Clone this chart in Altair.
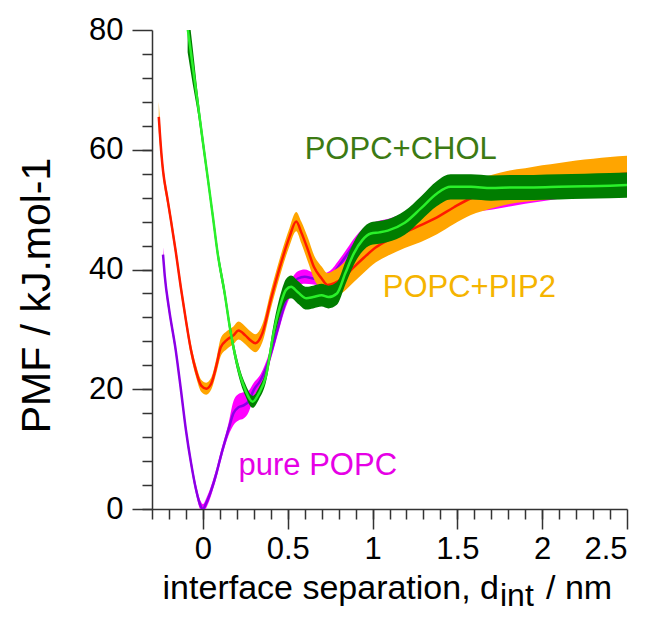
import altair as alt
import pandas as pd

FONT = "Liberation Sans"

# ---------------- data ----------------
# pure POPC (purple line, magenta error band)
popc_x = [-0.235, -0.225, -0.2, -0.16, -0.13, -0.1, -0.07, -0.04, -0.015, 0.0, 0.02, 0.05, 0.08,
          0.11, 0.15, 0.18, 0.21, 0.24, 0.27, 0.30, 0.34, 0.39, 0.44, 0.48, 0.52, 0.56, 0.60, 0.65,
          0.70, 0.75, 0.80, 0.85, 0.90, 0.95, 1.0, 1.1, 1.2, 1.3, 1.4, 1.5, 1.6, 1.7, 1.8, 1.9,
          2.0, 2.1, 2.2, 2.3, 2.4, 2.5]
popc_y = [42.5, 39.0, 33.5, 26.5, 20.0, 13.2, 7.7, 3.2, 0.6, 0.0, 1.0, 3.2, 6.0,
          9.3, 13.2, 16.0, 17.0, 17.3, 18.0, 19.9, 21.5, 25.0, 30.0, 34.0, 37.0, 38.5, 38.8, 38.5,
          38.3, 38.8, 40.5, 42.5, 44.5, 46.0, 46.8, 47.5, 48.5, 49.3, 50.0, 50.3, 50.7, 51.0, 51.5, 52.0,
          52.4, 52.8, 53.1, 53.4, 53.7, 54.0]
popc_err = [1.2, 1.0, 0.8, 0.8, 0.8, 0.8, 0.8, 0.8, 0.8, 0.8, 0.8, 0.8, 0.8,
            0.8, 1.0, 2.0, 2.2, 2.2, 1.8, 1.2, 1.0, 1.0, 1.0, 1.0, 1.2, 1.2, 1.2, 1.0,
            1.0, 1.0, 1.0, 1.0, 1.0, 1.0, 1.0, 1.0, 1.0, 1.0, 1.0, 1.0, 1.0, 1.0, 1.0, 1.0,
            1.0, 1.0, 1.0, 1.0, 1.0, 1.0]

# POPC+PIP2 (red line, orange error band)
pip2_x = [-0.26, -0.245, -0.235, -0.21, -0.19, -0.16, -0.13, -0.1, -0.07, -0.04, -0.01, 0.02, 0.05,
          0.08, 0.105, 0.14, 0.18, 0.21, 0.25, 0.28, 0.31, 0.35, 0.40, 0.46, 0.51, 0.55, 0.58, 0.62,
          0.655, 0.70, 0.735, 0.775, 0.83, 0.89, 0.95, 1.02, 1.09, 1.19, 1.285, 1.38, 1.48, 1.58,
          1.7, 1.8, 1.9, 2.0, 2.1, 2.2, 2.3, 2.4, 2.5]
pip2_y = [65.5, 59.5, 56.5, 52.0, 48.5, 43.0, 37.0, 31.5, 26.5, 23.0, 20.6, 20.1, 21.0,
          24.0, 27.0, 28.2, 29.0, 29.8, 29.0, 28.2, 27.7, 29.3, 34.9, 41.0, 45.4, 48.0, 46.2, 43.2,
          40.4, 38.5, 37.4, 37.7, 38.7, 40.4, 42.0, 43.7, 44.9, 46.2, 47.4, 48.7, 50.4, 51.9,
          53.0, 53.7, 54.1, 54.5, 54.9, 55.2, 55.5, 55.8, 56.0]
pip2_err = [2.5, 1.5, 1.2, 1.0, 1.0, 1.0, 1.0, 1.0, 1.0, 1.0, 1.0, 1.0, 1.0,
            1.2, 1.5, 1.5, 1.5, 1.5, 1.5, 1.5, 1.5, 1.5, 1.5, 1.5, 1.5, 1.6, 1.8, 2.0,
            2.0, 2.0, 2.0, 2.2, 2.4, 2.5, 2.5, 2.5, 2.6, 2.6, 2.8, 2.8, 2.8, 2.8,
            2.8, 2.8, 2.8, 2.9, 2.9, 3.0, 3.0, 3.0, 3.0]

# POPC+CHOL (light green line, dark green error band)
chol_x = [-0.09, -0.06, -0.03, 0.0, 0.03, 0.06, 0.087, 0.125, 0.165, 0.20, 0.25, 0.293, 0.33,
          0.37, 0.42, 0.46, 0.49, 0.52, 0.56, 0.61, 0.65, 0.70, 0.74, 0.79, 0.84, 0.89, 0.94,
          0.99, 1.04, 1.09, 1.19, 1.285, 1.38, 1.46, 1.58, 1.70, 1.82, 1.95, 2.1, 2.25, 2.4, 2.5]
chol_y = [80.3, 74.0, 67.7, 61.3, 55.0, 48.6, 42.7, 36.6, 29.3, 24.4, 19.9, 17.9, 19.3,
          22.0, 29.9, 34.4, 36.6, 37.1, 36.2, 35.2, 35.4, 35.7, 35.4, 36.0, 39.4, 42.7, 44.9,
          46.0, 46.2, 46.5, 47.8, 50.2, 52.7, 53.8, 53.8, 53.6, 53.7, 53.7, 53.8, 53.9, 54.0, 54.1]
chol_err = [4.0, 3.0, 1.6, 1.2, 1.0, 1.0, 1.0, 1.0, 1.0, 1.0, 1.0, 1.0, 1.0,
            1.0, 1.4, 1.7, 1.8, 1.9, 1.9, 1.9, 1.9, 1.9, 1.9, 1.9, 1.9, 1.9, 1.9,
            1.9, 1.9, 1.9, 2.0, 2.0, 2.1, 2.1, 2.1, 2.1, 2.1, 2.1, 2.1, 2.1, 2.1, 2.1]

# annotation labels (text, x, y in data units, colour)
label_text = ["POPC+CHOL", "POPC+PIP2", "pure POPC"]
label_x = [0.60, 1.06, 0.21]
label_y = [58.4, 35.4, 5.6]
label_color = ["#3c7a13", "#f5b400", "#e600e6"]

x_major = [0, 0.5, 1, 1.5, 2, 2.5]
x_minor = [round(-0.3 + 0.1 * i, 2) for i in range(28)]
y_major = [0, 20, 40, 60, 80]
y_minor = list(range(0, 80, 4))


def frame(xs, ys, es):
    return pd.DataFrame({
        "x": xs, "y": ys,
        "lo": [y - e for y, e in zip(ys, es)],
        "hi": [y + e for y, e in zip(ys, es)],
    })


popc = frame(popc_x, popc_y, popc_err)
pip2 = frame(pip2_x, pip2_y, pip2_err)
chol = frame(chol_x, chol_y, chol_err)

XS = alt.Scale(domain=[-0.3, 2.5], nice=False, zero=False)
YS = alt.Scale(domain=[0, 80], nice=False, zero=False)


def band(df, color):
    return alt.Chart(df).mark_area(color=color, opacity=1, clip=True,
                                   interpolate="monotone").encode(
        x=alt.X("x:Q", scale=XS, axis=None),
        y=alt.Y("lo:Q", scale=YS, axis=None),
        y2="hi:Q",
    )


def line(df, color, w=2.5):
    return alt.Chart(df).mark_line(color=color, strokeWidth=w, clip=True,
                                   interpolate="monotone").encode(
        x=alt.X("x:Q", scale=XS, axis=None),
        y=alt.Y("y:Q", scale=YS, axis=None),
    )


AX = dict(domainColor="#333333", tickColor="#333333", domainWidth=1.5, tickWidth=1.5,
          labelFont=FONT, labelFontSize=31, labelColor="#000000", grid=False,
          titleFont=FONT, titleFontWeight="normal", titleColor="#000000")

major_axes = alt.Chart(popc).mark_point(opacity=0).encode(
    x=alt.X("x:Q", scale=XS, axis=alt.Axis(orient="bottom", values=x_major, format="~g",
                                           tickSize=20, labelPadding=5, title=None, **AX)),
    y=alt.Y("y:Q", scale=YS, axis=alt.Axis(orient="left", values=y_major, tickSize=20,
                                           labelPadding=9, title="PMF / kJ.mol-1",
                                           titleFontSize=41,
                                           titleX=-94, titleY=265, titleAnchor="middle", **AX)),
)
minor_axes = alt.Chart(popc).mark_point(opacity=0).encode(
    x=alt.X("x:Q", scale=XS, axis=alt.Axis(orient="bottom", values=x_minor, tickSize=10,
                                           labels=False, domain=False, title=None, **AX)),
    y=alt.Y("y:Q", scale=YS, axis=alt.Axis(orient="left", values=y_minor, tickSize=10,
                                           labels=False, domain=False, title=None, **AX)),
)

labels_df = pd.DataFrame({"t": label_text, "x": label_x, "y": label_y, "c": label_color})
labels = alt.Chart(labels_df).mark_text(align="left", baseline="alphabetic", font=FONT,
                                        fontSize=31).encode(
    x=alt.X("x:Q", scale=XS, axis=None),
    y=alt.Y("y:Q", scale=YS, axis=None),
    text="t:N",
    color=alt.Color("c:N", scale=None),
)

# x-axis title with subscript
title_a = alt.Chart(pd.DataFrame({"t": ["interface separation, d"]})).mark_text(
    align="right", baseline="alphabetic", font=FONT, fontSize=34, color="#000000").encode(
    x=alt.value(347), y=alt.value(569), text="t:N")
title_b = alt.Chart(pd.DataFrame({"t": ["int"]})).mark_text(
    align="left", baseline="alphabetic", font=FONT, fontSize=32, color="#000000").encode(
    x=alt.value(348), y=alt.value(576), text="t:N")
title_c = alt.Chart(pd.DataFrame({"t": ["/ nm"]})).mark_text(
    align="left", baseline="alphabetic", font=FONT, fontSize=34, color="#000000").encode(
    x=alt.value(394), y=alt.value(569), text="t:N")

chart = alt.layer(
    major_axes, minor_axes,
    band(popc, "#ff00ff"), line(popc, "#8a00e6"),
    band(pip2, "#ffa500"), line(pip2, "#ff1a00"),
    band(chol, "#007d00"), line(chol, "#2af02a"),
    labels, title_a, title_b, title_c,
).resolve_axis(x="independent", y="independent").properties(
    width=475, height=479,
    background="white",
    autosize=alt.AutoSizeParams(type="none"),
    padding={"left": 144, "top": 22, "right": 14, "bottom": 105},
).configure_view(stroke="transparent", strokeWidth=0).configure_axis(grid=False)

chart.save("out.html", embed_options={"renderer": "svg", "actions": False})
